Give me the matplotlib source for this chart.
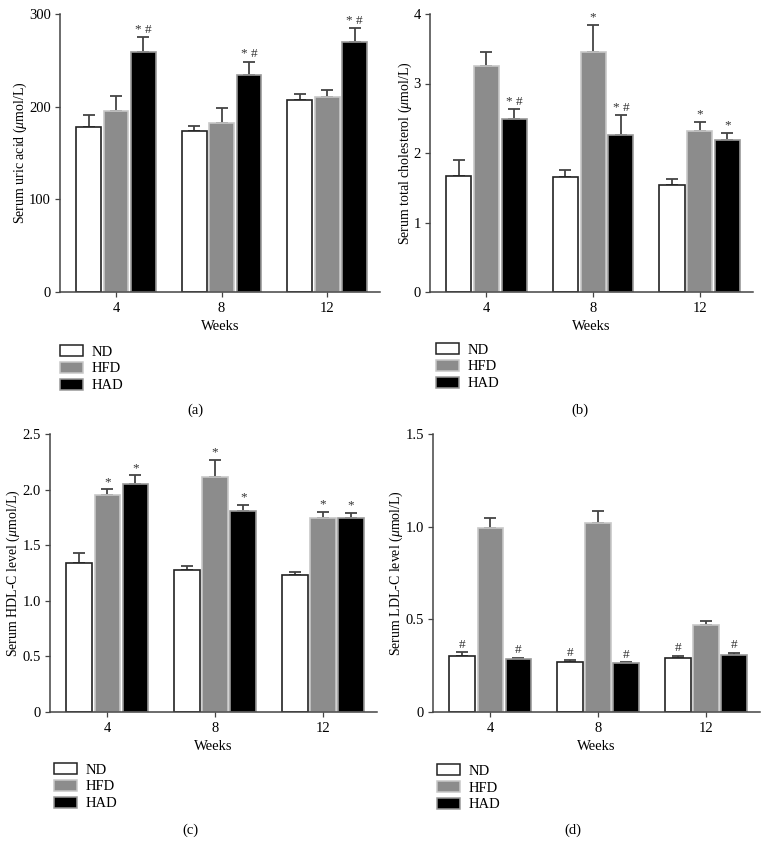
import matplotlib
matplotlib.use("Agg")
import matplotlib.pyplot as plt
from matplotlib.patches import Patch
import numpy as np

plt.rcParams['font.family'] = ['Liberation Serif', 'DejaVu Serif']
plt.rcParams['mathtext.fontset'] = 'custom'
plt.rcParams['mathtext.it'] = 'Liberation Serif:italic'
plt.rcParams['mathtext.rm'] = 'Liberation Serif'

weeks = ['4', '8', '12']
groups = ['ND', 'HFD', 'HAD']

# Panel (a) Serum uric acid
ua_nd = [177.7, 173.7, 206.9]
ua_nd_err = [13.0, 5.3, 7.1]
ua_hfd = [195.0, 182.0, 210.0]
ua_hfd_err = [16.5, 16.9, 8.0]
ua_had = [259.3, 233.8, 270.0]
ua_had_err = [15.5, 14.7, 15.0]
ua_marks = [['', '', '*#'], ['', '', '*#'], ['', '', '*#']]

# Panel (b) Serum total cholesterol
tc_nd = [1.67, 1.66, 1.54]
tc_nd_err = [0.23, 0.09, 0.09]
tc_hfd = [3.25, 3.45, 2.32]
tc_hfd_err = [0.21, 0.39, 0.13]
tc_had = [2.49, 2.26, 2.18]
tc_had_err = [0.14, 0.28, 0.11]
tc_marks = [['', '', '*#'], ['', '*', '*#'], ['', '*', '*']]

# Panel (c) Serum HDL-C level
hdl_nd = [1.337, 1.274, 1.229]
hdl_nd_err = [0.096, 0.039, 0.033]
hdl_hfd = [1.947, 2.112, 1.749]
hdl_hfd_err = [0.054, 0.154, 0.051]
hdl_had = [2.052, 1.809, 1.746]
hdl_had_err = [0.075, 0.057, 0.045]
hdl_marks = [['', '*', '*'], ['', '*', '*'], ['', '*', '*']]

# Panel (d) Serum LDL-C level
ldl_nd = [0.301, 0.272, 0.292]
ldl_nd_err = [0.022, 0.006, 0.011]
ldl_hfd = [0.995, 1.020, 0.471]
ldl_hfd_err = [0.054, 0.063, 0.021]
ldl_had = [0.287, 0.265, 0.308]
ldl_had_err = [0.005, 0.005, 0.013]
ldl_marks = [['#', '', '#'], ['#', '', '#'], ['#', '', '#']]

W, H = 767, 844
fig = plt.figure(figsize=(W / 100, H / 100), dpi=100)

def ax_rect(l, r, t, b):
    return [l / W, (H - b) / H, (r - l) / W, (b - t) / H]

face = ['white', '#8c8c8c', 'black']
edge = ['#222222', '#c8c8c8', '#999999']
ecol = '#444444'

def panel(rect, nd, nde, hfd, hfde, had, hade, marks, ylim, yticks, yticklabels, ylabel, cap, capxy, legxy):
    ax = fig.add_axes(ax_rect(*rect))
    x = np.arange(len(weeks))
    wbar = 0.235
    off = 0.26
    vals = [nd, hfd, had]
    errs = [nde, hfde, hade]
    for i in range(3):
        xs = x + (i - 1) * off
        ax.bar(xs, vals[i], wbar, color=face[i], edgecolor=edge[i], linewidth=1.2, zorder=2)
        ax.errorbar(xs, vals[i], yerr=[np.zeros(3), errs[i]], fmt='none', ecolor=ecol,
                    elinewidth=1.3, capsize=4.6, capthick=1.3, zorder=1)
        for j in range(3):
            m = marks[j][i]
            if m:
                ax.annotate(m.replace('*#', '* #'), (xs[j], vals[i][j] + errs[i][j]), xytext=(0, 1.0),
                            textcoords='offset points', ha='center', va='bottom',
                            fontsize=9.5, color='#333333')
    ax.set_xlim(-0.53, 2.5)
    ax.set_ylim(*ylim)
    ax.set_yticks(yticks)
    ax.set_yticklabels(yticklabels)
    ax.set_xticks(x)
    ax.set_xticklabels(weeks)
    ax.set_xlabel('Weeks', fontsize=10.5, labelpad=3)
    ax.set_ylabel(ylabel, fontsize=10, labelpad=0)
    for s in ['top', 'right']:
        ax.spines[s].set_visible(False)
    for s in ['left', 'bottom']:
        ax.spines[s].set_color('#444444')
        ax.spines[s].set_linewidth(1.1)
    ax.tick_params(axis='both', labelsize=10.5, color='#444444', length=3.5, width=0.9, pad=3)
    ax.tick_params(axis='x', pad=4)
    handles = [Patch(facecolor=face[i], edgecolor=edge[i], linewidth=1.1, label=groups[i]) for i in range(3)]
    fig.legend(handles=handles, loc='upper left',
               bbox_to_anchor=(legxy[0] / W, 1 - legxy[1] / H),
               frameon=False, fontsize=10.5, borderpad=0, borderaxespad=0,
               handlelength=1.6, handleheight=0.8, handletextpad=0.55, labelspacing=0.22)
    fig.text(capxy[0] / W, 1 - capxy[1] / H, cap, ha='center', va='center', fontsize=10.5)
    return ax

panel((60, 380, 14, 292), ua_nd, ua_nd_err, ua_hfd, ua_hfd_err, ua_had, ua_had_err, ua_marks,
      (0, 300), [0, 100, 200, 300], ['0', '100', '200', '300'],
      r'Serum uric acid ($\mathit{\mu}$mol/L)', '(a)', (195, 410), (60, 345))

panel((430, 753, 14, 292), tc_nd, tc_nd_err, tc_hfd, tc_hfd_err, tc_had, tc_had_err, tc_marks,
      (0, 4), [0, 1, 2, 3, 4], ['0', '1', '2', '3', '4'],
      r'Serum total cholesterol ($\mathit{\mu}$mol/L)', '(b)', (580, 410), (436, 343))

panel((50, 377, 434, 712), hdl_nd, hdl_nd_err, hdl_hfd, hdl_hfd_err, hdl_had, hdl_had_err, hdl_marks,
      (0, 2.5), [0, 0.5, 1.0, 1.5, 2.0, 2.5], ['0', '0.5', '1.0', '1.5', '2.0', '2.5'],
      r'Serum HDL-C level ($\mathit{\mu}$mol/L)', '(c)', (190, 830), (54, 763))

panel((433, 760, 434, 712), ldl_nd, ldl_nd_err, ldl_hfd, ldl_hfd_err, ldl_had, ldl_had_err, ldl_marks,
      (0, 1.5), [0, 0.5, 1.0, 1.5], ['0', '0.5', '1.0', '1.5'],
      r'Serum LDL-C level ($\mathit{\mu}$mol/L)', '(d)', (573, 830), (437, 764))

fig.savefig('out.png', dpi=100)
